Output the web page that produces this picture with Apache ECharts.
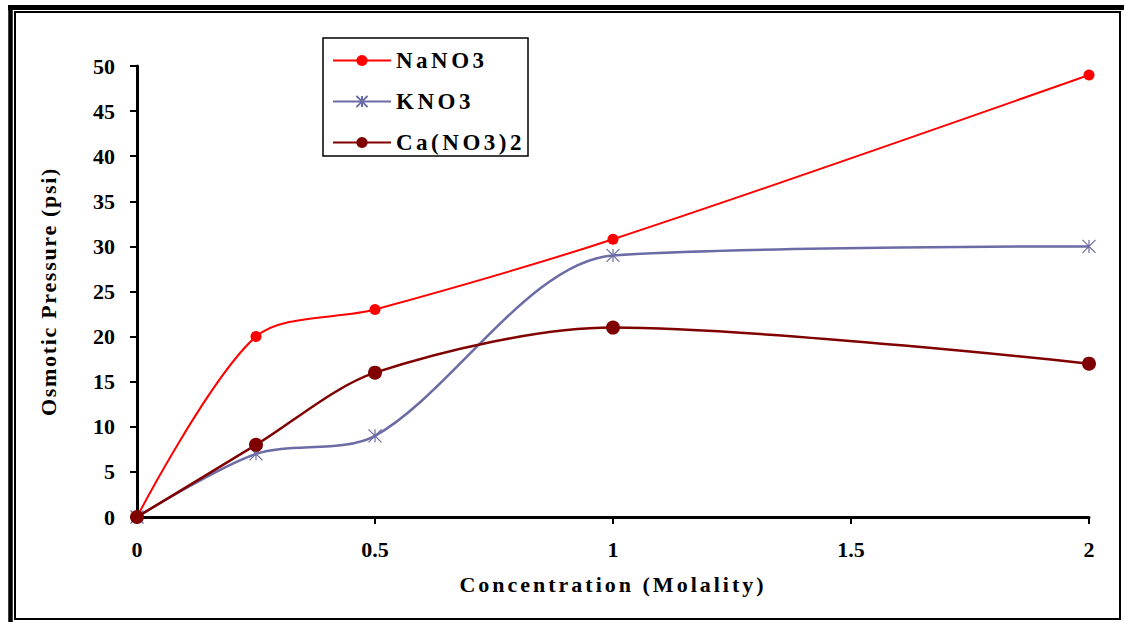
<!DOCTYPE html>
<html>
<head>
<meta charset="utf-8">
<script src="https://cdn.jsdelivr.net/npm/echarts@6/dist/echarts.min.js"></script>
<style>
  html, body { margin: 0; padding: 0; background: #ffffff; }
  #chart { width: 1124px; height: 622px; }
</style>
</head>
<body>
<div id="chart"></div>
<script>
// ---- data ----
const molality = [0, 0.25, 0.5, 1, 2];
const naNO3 = [0, 20, 23, 30.8, 49];
const kNO3 = [0, 7, 9, 29, 30];
const caNO32 = [0, 8, 16, 21, 17];
const seriesNames = ['NaNO3', 'KNO3', 'Ca(NO3)2'];
const xTitle = 'Concentration (Molality)';
const yTitle = 'Osmotic Pressure (psi)';

function pairs(ys) { return molality.map((x, i) => [x, ys[i]]); }

const FONT = 'Liberation Serif, serif';
const chart = echarts.init(document.getElementById('chart'), null, { renderer: 'svg' });

const option = {
  animation: false,
  backgroundColor: '#ffffff',
  grid: { left: 137, right: 35, top: 66, bottom: 105, containLabel: false },
  xAxis: {
    type: 'value', min: 0, max: 2, interval: 0.5,
    name: xTitle, nameLocation: 'middle', nameGap: 56,
    nameTextStyle: { fontFamily: FONT, fontSize: 22, fontWeight: 'bold', color: '#000' },
    axisLine: { show: true, onZero: false, lineStyle: { color: '#000', width: 3 } },
    axisTick: { show: true, length: 7, lineStyle: { color: '#000', width: 2 } },
    axisLabel: { fontFamily: FONT, fontSize: 22, fontWeight: 'bold', color: '#000', margin: 21 },
    splitLine: { show: false }
  },
  yAxis: {
    type: 'value', min: 0, max: 50, interval: 5,
    name: yTitle, nameLocation: 'middle', nameGap: 78,
    nameTextStyle: { fontFamily: FONT, fontSize: 22, fontWeight: 'bold', color: '#000' },
    axisLine: { show: true, lineStyle: { color: '#000', width: 3 } },
    axisTick: { show: true, length: 7, lineStyle: { color: '#000', width: 2 } },
    axisLabel: { fontFamily: FONT, fontSize: 22, fontWeight: 'bold', color: '#000', margin: 22 },
    splitLine: { show: false }
  },
  legend: {
    orient: 'vertical', left: 323, top: 38,
    padding: [11, 9, 11, 9],
    itemWidth: 58, itemHeight: 14, itemGap: 18,
    textStyle: { fontFamily: FONT, fontSize: 23, fontWeight: 'bold', color: '#000' },
    data: seriesNames
  },
  graphic: [
    { type: 'rect', shape: { x: 323, y: 38, width: 205, height: 118 },
      style: { fill: 'none', stroke: '#000', lineWidth: 1.5 }, z: 100, silent: true },
    { type: 'line', shape: { x1: 8, y1: 7.5, x2: 1124, y2: 7.5 }, style: { stroke: '#000', lineWidth: 5 }, silent: true },
    { type: 'line', shape: { x1: 10.5, y1: 5, x2: 10.5, y2: 622 }, style: { stroke: '#000', lineWidth: 4.5 }, silent: true },
    { type: 'rect', shape: { x: 15, y: 12, width: 1105, height: 607 }, style: { fill: 'none', stroke: '#000', lineWidth: 2 }, silent: true }
  ],
  series: [
    {
      name: seriesNames[0], type: 'line', data: pairs(naNO3), smooth: 0.3,
      symbol: 'circle', symbolSize: 11,
      lineStyle: { color: '#ff0000', width: 2 },
      itemStyle: { color: '#ff0000' }
    },
    {
      name: seriesNames[1], type: 'line', data: pairs(kNO3), smooth: 0.3,
      symbol: 'path://M0 0L10 10M10 0L0 10M5 0L5 10', symbolSize: 13,
      lineStyle: { color: '#6b6ba6', width: 2.5 },
      itemStyle: { color: 'none', borderColor: '#6b6ba6', borderWidth: 1.2 }
    },
    {
      name: seriesNames[2], type: 'line', data: pairs(caNO32), smooth: 0.3,
      symbol: 'circle', symbolSize: 14,
      lineStyle: { color: '#800000', width: 2.5 },
      itemStyle: { color: '#800000' }
    }
  ]
};
chart.setOption(option);

// letter spacing to mimic the wide spacing of the original text
function spaceText() {
  const spacing = {};
  spacing[xTitle] = '3px';
  spacing[yTitle] = '1.7px';
  seriesNames.forEach(n => spacing[n] = '3.5px');
  document.querySelectorAll('#chart svg text').forEach(t => {
    const s = spacing[t.textContent];
    if (s) t.style.letterSpacing = s;
  });
}
spaceText();
chart.on('finished', spaceText);
setTimeout(spaceText, 50);
</script>
</body>
</html>
